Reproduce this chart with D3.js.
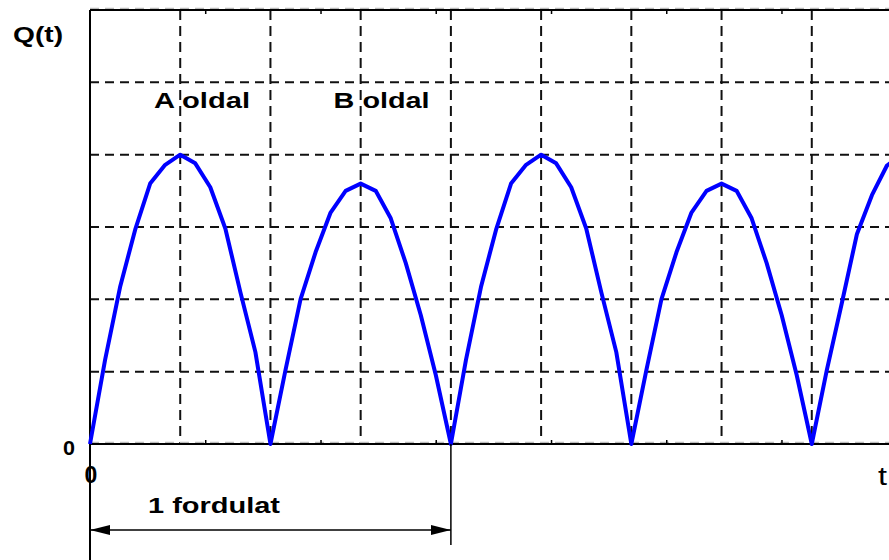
<!DOCTYPE html>
<html>
<head>
<meta charset="utf-8">
<script src="https://cdn.jsdelivr.net/npm/d3@7"></script>
<style>
	body { margin: 0; background: #fff; overflow: hidden; }
	svg { display: block; }
	text { font-family: 'Liberation Sans', Arial, sans-serif; fill: #000; }
</style>
</head>
<body>
<script>

// Q(t) values, one sample every 1/6 grid unit
var samplesPerUnit = 6;
var qValues = [
	0, 1.16, 2.17, 2.96, 3.6, 3.86, 4.0, 3.88, 3.55, 2.98, 2.1, 1.27,   // A oldal
	0, 1.02, 2.0, 2.65, 3.2, 3.5, 3.6, 3.5, 3.12, 2.5, 1.78, 0.95,      // B oldal
	0, 1.16, 2.17, 2.96, 3.6, 3.86, 4.0, 3.88, 3.55, 2.98, 2.1, 1.27,   // A oldal
	0, 1.02, 2.0, 2.65, 3.2, 3.5, 3.6, 3.5, 3.12, 2.5, 1.78, 0.95,      // B oldal
	0, 1.02, 1.95, 2.9, 3.44, 3.85, 4.0
];

var gridX = [1, 2, 3, 4, 5, 6, 7, 8, 9];
var gridY = [1, 2, 3, 4, 5];
var axisTicks = [1.277, 2.555, 3.832, 5.11, 6.387, 7.664];
var sideLabels = [
	{ text: 'A oldal', t: 0.71 },
	{ text: 'B oldal', t: 2.7 }
];
var revolution = [0, 4];


var width = 889,
	height = 560;

var x = d3.scaleLinear().domain([0, 9]).range([90, 902]),
	y = d3.scaleLinear().domain([0, 6]).range([444, 10]);

var svg = d3.select('body').append('svg')
	.attr('width', width)
	.attr('height', height);

var defs = svg.append('defs');
defs.append('marker')
	.attr('id', 'arrow')
	.attr('viewBox', '0 0 20 10')
	.attr('refX', 20)
	.attr('refY', 5)
	.attr('markerWidth', 20)
	.attr('markerHeight', 10)
	.attr('markerUnits', 'userSpaceOnUse')
	.attr('orient', 'auto-start-reverse')
	.append('path')
		.attr('d', 'M0,0 L20,5 L0,10 Z')
		.style('fill', '#000');


// dashed grid
svg.append('g')
	.selectAll('line')
	.data(gridX)
	.enter().append('line')
		.attr('x1', function(d) { return x(d); })
		.attr('x2', function(d) { return x(d); })
		.attr('y1', y(6))
		.attr('y2', y(0))
		.style('stroke', '#111')
		.style('stroke-width', 2)
		.style('stroke-dasharray', '10,6');

svg.append('g')
	.selectAll('line')
	.data(gridY)
	.enter().append('line')
		.attr('x1', x(0))
		.attr('x2', width)
		.attr('y1', function(d) { return y(d); })
		.attr('y2', function(d) { return y(d); })
		.style('stroke', '#111')
		.style('stroke-width', 2)
		.style('stroke-dasharray', '9,6');

// faint dashes riding on the frame lines
[0, 6].forEach(function(v) {
	svg.append('line')
		.attr('x1', x(0))
		.attr('x2', width)
		.attr('y1', y(v) - 1.5)
		.attr('y2', y(v) - 1.5)
		.style('stroke', '#bbb')
		.style('stroke-width', 1.5)
		.style('stroke-dasharray', '9,6');
});


// frame: bottom and top axis
svg.append('g')
	.attr('transform', 'translate(0,' + y(0) + ')')
	.call(d3.axisTop(x).tickValues(axisTicks).tickSize(4).tickFormat(''))
	.call(function(g) {
		g.select('.domain').remove();
		g.selectAll('line').style('stroke', '#000').style('stroke-width', 1.5);
	});

svg.append('g')
	.attr('transform', 'translate(0,' + y(6) + ')')
	.call(d3.axisBottom(x).tickValues(axisTicks).tickSize(4).tickFormat(''))
	.call(function(g) {
		g.select('.domain').remove();
		g.selectAll('line').style('stroke', '#000').style('stroke-width', 1.5);
	});

[0, 6].forEach(function(v) {
	svg.append('line')
		.attr('x1', x(0))
		.attr('x2', width)
		.attr('y1', y(v))
		.attr('y2', y(v))
		.style('stroke', '#000')
		.style('stroke-width', 2);
});

svg.append('line')
	.attr('x1', x(0))
	.attr('x2', x(0))
	.attr('y1', y(6))
	.attr('y2', height)
	.style('stroke', '#000')
	.style('stroke-width', 2);


// the curve
var line = d3.line()
	.x(function(d, i) { return x(i / samplesPerUnit); })
	.y(function(d) { return y(d); });

svg.append('path')
	.datum(qValues)
	.attr('d', line)
	.style('fill', 'none')
	.style('stroke', '#0000ff')
	.style('stroke-width', 4)
	.style('stroke-linejoin', 'round');


// labels
svg.append('text')
	.attr('x', 13)
	.attr('y', 42)
	.attr('textLength', 50)
	.attr('lengthAdjust', 'spacingAndGlyphs')
	.style('font-size', '22px')
	.style('font-weight', 'bold')
	.text('Q(t)');

svg.selectAll('.side')
	.data(sideLabels)
	.enter().append('text')
		.attr('class', 'side')
		.attr('x', function(d) { return x(d.t); })
		.attr('y', 108)
		.attr('textLength', 96)
		.attr('lengthAdjust', 'spacingAndGlyphs')
		.style('font-size', '22px')
		.style('font-weight', 'bold')
		.text(function(d) { return d.text; });

svg.append('text')
	.attr('x', 75)
	.attr('y', y(0) + 11)
	.attr('text-anchor', 'end')
	.attr('textLength', 12)
	.attr('lengthAdjust', 'spacingAndGlyphs')
	.style('font-size', '21px')
	.style('font-weight', 'bold')
	.text('0');

svg.append('text')
	.attr('x', x(0) + 1)
	.attr('y', y(0) + 39)
	.attr('text-anchor', 'middle')
	.style('font-size', '23px')
	.style('font-weight', 'bold')
	.text('0');

svg.append('text')
	.attr('x', 878)
	.attr('y', y(0) + 41)
	.attr('textLength', 9)
	.attr('lengthAdjust', 'spacingAndGlyphs')
	.style('font-size', '26px')
	.text('t');


// one revolution dimension
svg.append('line')
	.attr('x1', x(revolution[1]))
	.attr('x2', x(revolution[1]))
	.attr('y1', y(0))
	.attr('y2', 545)
	.style('stroke', '#000')
	.style('stroke-width', 1.5);

svg.append('line')
	.attr('x1', x(revolution[0]))
	.attr('x2', x(revolution[1]))
	.attr('y1', 530)
	.attr('y2', 530)
	.attr('marker-start', 'url(#arrow)')
	.attr('marker-end', 'url(#arrow)')
	.style('stroke', '#000')
	.style('stroke-width', 1.5);

svg.append('text')
	.attr('x', 148)
	.attr('y', 513)
	.attr('textLength', 132)
	.attr('lengthAdjust', 'spacingAndGlyphs')
	.style('font-size', '22px')
	.style('font-weight', 'bold')
	.text('1 fordulat');

</script>
</body>
</html>
